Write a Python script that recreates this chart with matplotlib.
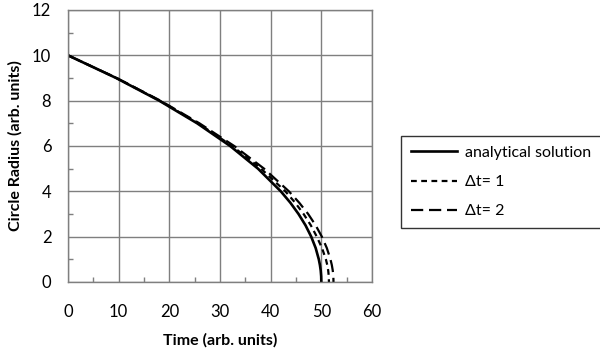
import matplotlib
matplotlib.use("Agg")
import matplotlib.pyplot as plt
from matplotlib.ticker import MultipleLocator

plt.rcParams['font.family'] = ['Lato', 'DejaVu Sans']

# Data
r_levels = [10, 9, 8, 7, 6, 5, 4, 3.5, 3, 2.5, 2, 1.5, 1, 0.75, 0.5, 0.25, 0]
t_analytical = [0, 9.5, 18, 25.5, 32, 37.5, 42, 43.88, 45.5, 46.88, 48, 48.88, 49.5, 49.72, 49.88, 49.97, 50]
t_dt1 = [0, 9.55, 18.1, 25.7, 32.4, 38.1, 42.9, 44.83, 46.5, 47.93, 49.1, 50.13, 50.9, 51.17, 51.36, 51.47, 51.5]
t_dt2 = [0, 9.6, 18.25, 25.95, 32.8, 38.7, 43.6, 45.63, 47.4, 48.88, 50.1, 51.08, 51.8, 52.07, 52.26, 52.37, 52.4]

labels = ["analytical solution", "\u0394t= 1", "\u0394t= 2"]
x_label = "Time (arb. units)"
y_label = "Circle Radius (arb. units)"

fig = plt.figure(figsize=(6, 3.56), dpi=100)
ax = fig.add_axes([68/600, 1-282/356, (372-68)/600, (282-10)/356])

ax.plot(t_analytical, r_levels, color='black', lw=1.9, label=labels[0],
        solid_joinstyle='round')
ax.plot(t_dt1, r_levels, color='black', lw=1.6, dashes=(2.6, 2.0), label=labels[1])
ax.plot(t_dt2, r_levels, color='black', lw=1.6, dashes=(5.5, 2.6), label=labels[2])

ax.set_xlim(0, 60)
ax.set_ylim(0, 12)
ax.xaxis.set_major_locator(MultipleLocator(10))
ax.yaxis.set_major_locator(MultipleLocator(2))
ax.xaxis.set_minor_locator(MultipleLocator(5))
ax.yaxis.set_minor_locator(MultipleLocator(1))
ax.grid(True, which='major', color='#7f7f7f', lw=1.0)
ax.set_axisbelow(True)
for s in ax.spines.values():
    s.set_color('#7f7f7f')
    s.set_linewidth(1.0)
ax.tick_params(which='major', length=0, labelsize=12, colors='black')
ax.tick_params(axis='x', which='major', pad=16)
ax.tick_params(axis='y', which='major', pad=12)
ax.tick_params(which='minor', direction='in', length=3.5, color='#7f7f7f', width=1.0)

ax.set_xlabel(x_label, fontsize=11.5, fontweight='bold', labelpad=9)
ax.set_ylabel(y_label, fontsize=11.5, fontweight='bold', labelpad=7)

leg = fig.legend(loc='upper left', bbox_to_anchor=(401/600, 1-136/356),
                 fontsize=11.5, frameon=True, fancybox=False, handlelength=2.9,
                 handletextpad=0.5, labelspacing=0.95, borderpad=0.6,
                 borderaxespad=0)
leg.get_frame().set_edgecolor('black')
leg.get_frame().set_linewidth(1.0)

fig.savefig("out.png", dpi=100)
